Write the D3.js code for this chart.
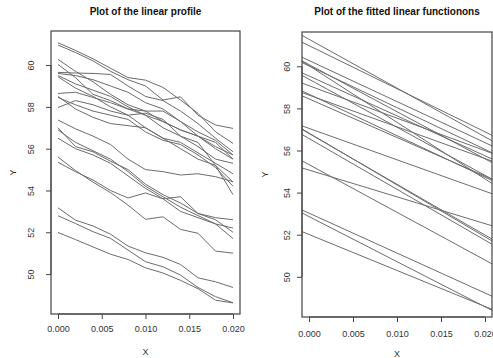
<!DOCTYPE html>
<html><head><meta charset="utf-8">
<script src="https://cdn.jsdelivr.net/npm/d3@7"></script>
<style>body{margin:0;background:#fff}svg{display:block;font-family:"Liberation Sans",Arial,sans-serif}</style>
</head><body><svg id="c" width="493" height="358"></svg>
<script>
// ---- data ----
const xValues = [0, 0.002, 0.004, 0.006, 0.008, 0.010, 0.012, 0.014, 0.016, 0.018, 0.020];
const profile01 = [61.07, 60.70, 60.30, 59.85, 59.40, 59.28, 58.93, 58.33, 57.69, 56.81, 56.25];
const profile02 = [60.96, 60.60, 60.20, 59.70, 59.30, 59.00, 58.33, 58.48, 57.60, 57.13, 56.97];
const profile03 = [60.27, 59.70, 59.20, 58.60, 58.10, 57.80, 57.30, 56.90, 56.60, 56.10, 55.70];
const profile04 = [60.03, 59.40, 58.60, 58.30, 57.90, 57.60, 57.00, 56.60, 56.30, 55.20, 53.80];
const profile05 = [59.65, 59.62, 59.60, 59.55, 59.00, 58.50, 58.30, 57.80, 57.20, 56.50, 55.85];
const profile06 = [59.60, 59.50, 59.30, 59.00, 58.70, 58.20, 57.90, 57.30, 56.80, 56.40, 55.70];
const profile07 = [59.50, 59.10, 58.80, 58.50, 58.00, 57.60, 57.30, 56.90, 56.60, 56.30, 55.50];
const profile08 = [59.44, 58.90, 58.50, 58.00, 57.60, 57.00, 56.50, 56.30, 55.80, 55.30, 54.80];
const profile09 = [58.64, 58.70, 58.45, 58.20, 57.90, 57.80, 57.80, 57.30, 56.60, 56.00, 55.50];
const profile10 = [58.50, 57.90, 57.50, 57.20, 57.10, 57.00, 56.50, 56.00, 55.50, 55.20, 54.40];
const profile11 = [58.45, 58.10, 57.80, 57.60, 57.40, 56.80, 56.40, 56.20, 55.70, 55.10, 54.20];
const profile12 = [57.97, 58.30, 58.10, 57.80, 57.60, 57.70, 57.40, 56.60, 56.10, 55.50, 55.30];
const profile13 = [57.37, 56.95, 56.60, 56.20, 55.50, 55.00, 54.90, 54.74, 54.80, 54.66, 54.42];
const profile14 = [57.00, 56.10, 55.85, 55.40, 55.00, 54.30, 53.80, 53.40, 52.90, 52.60, 52.00];
const profile15 = [56.90, 56.30, 55.90, 55.50, 54.90, 54.20, 53.70, 53.20, 52.80, 52.40, 52.20];
const profile16 = [56.50, 56.00, 55.70, 55.30, 54.70, 54.10, 53.60, 53.00, 52.70, 52.40, 51.70];
const profile17 = [55.60, 54.95, 54.40, 53.90, 53.30, 52.62, 52.74, 52.14, 51.95, 51.10, 51.00];
const profile18 = [55.35, 54.90, 54.50, 54.00, 53.64, 53.88, 53.60, 53.70, 52.90, 52.70, 52.60];
const profile19 = [53.17, 52.58, 52.30, 51.91, 51.34, 51.02, 50.80, 50.46, 49.82, 49.63, 49.36];
const profile20 = [52.79, 52.42, 52.03, 51.71, 51.15, 50.59, 50.35, 49.95, 49.36, 48.92, 48.63];
const profile21 = [51.99, 51.65, 51.30, 50.95, 50.70, 50.30, 50.05, 49.70, 49.30, 48.75, 48.62];
const profiles = [profile01, profile02, profile03, profile04, profile05, profile06, profile07,
  profile08, profile09, profile10, profile11, profile12, profile13, profile14, profile15,
  profile16, profile17, profile18, profile19, profile20, profile21];
const xTicks = [0, 0.005, 0.010, 0.015, 0.020];
const xTickLabels = ["0.000", "0.005", "0.010", "0.015", "0.020"];
const yTicks = [50, 52, 54, 56, 58, 60];
const xDomain = [-0.0008, 0.0208];
const yDomain = [48.09, 61.63];
const titles = ["Plot of the linear profile", "Plot of the fitted linear functionons"];

// least-squares fit of each profile
function fit(ys) {
  const mx = d3.mean(xValues), my = d3.mean(ys);
  let sxy = 0, sxx = 0;
  xValues.forEach((x, i) => { sxy += (x - mx) * (ys[i] - my); sxx += (x - mx) * (x - mx); });
  const b = sxy / sxx;
  return { a: my - b * mx, b };
}
const fits = profiles.map(fit);

const svg = d3.select("#c");
const panels = [
  { l: 51, r: 240, t: 31, b: 314, titleY: 15, yLabX: 31, xLabY: 332, xTitleY: 355, yTitleX: 16 },
  { l: 302, r: 492, t: 32, b: 317, titleY: 15, yLabX: 287, xLabY: 337, xTitleY: 357, yTitleX: 268 }
];

panels.forEach((p, k) => {
  const x = d3.scaleLinear().domain(xDomain).range([p.l, p.r]);
  const y = d3.scaleLinear().domain(yDomain).range([p.b, p.t]);
  const g = svg.append("g");
  const clipId = "clip" + k;
  g.append("clipPath").attr("id", clipId).append("rect")
    .attr("x", p.l).attr("y", p.t).attr("width", p.r - p.l).attr("height", p.b - p.t);
  const plot = g.append("g").attr("clip-path", `url(#${clipId})`);
  if (k === 0) {
    const line = d3.line().x((d, i) => x(xValues[i])).y(d => y(d));
    plot.selectAll("path").data(profiles).join("path")
      .attr("d", line).attr("fill", "none").attr("stroke", "#6c6c6c").attr("stroke-width", 1);
  } else {
    plot.selectAll("line").data(fits).join("line")
      .attr("x1", x(xDomain[0])).attr("x2", x(xDomain[1]))
      .attr("y1", f => y(f.a + f.b * xDomain[0])).attr("y2", f => y(f.a + f.b * xDomain[1]))
      .attr("stroke", "#6c6c6c").attr("stroke-width", 1);
  }
  // box
  g.append("rect").attr("x", p.l).attr("y", p.t).attr("width", p.r - p.l).attr("height", p.b - p.t)
    .attr("fill", "none").attr("stroke", "#444").attr("stroke-width", 1.2);
  // x axis
  const xa = d3.axisBottom(x).tickValues(xTicks).tickSize(5).tickFormat((d, i) => xTickLabels[i]);
  const gx = g.append("g").attr("transform", `translate(0,${p.b})`).call(xa);
  gx.select(".domain").attr("d", `M${x(xTicks[0])},0H${x(xTicks[xTicks.length - 1])}`).attr("stroke", "#444");
  gx.selectAll(".tick line").attr("stroke", "#444");
  gx.selectAll(".tick text").attr("y", p.xLabY - p.b - 3).attr("dy", "0.35em")
    .attr("font-size", 9).attr("fill", "#333").attr("font-family", "Liberation Sans, Arial, sans-serif");
  // y axis
  const ya = d3.axisLeft(y).tickValues(yTicks).tickSize(5).tickFormat(d3.format("d"));
  const gy = g.append("g").attr("transform", `translate(${p.l},0)`).call(ya);
  gy.select(".domain").attr("d", `M0,${y(yTicks[0])}V${y(yTicks[yTicks.length - 1])}`).attr("stroke", "#444");
  gy.selectAll(".tick line").attr("stroke", "#444");
  gy.selectAll(".tick text")
    .attr("x", null).attr("dy", null)
    .attr("transform", `translate(${p.yLabX - p.l},0) rotate(-90)`)
    .attr("text-anchor", "middle").attr("dominant-baseline", "central")
    .attr("font-size", 9).attr("fill", "#333").attr("font-family", "Liberation Sans, Arial, sans-serif");
  // titles
  g.append("text").attr("x", (p.l + p.r) / 2).attr("y", p.titleY)
    .attr("text-anchor", "middle").attr("font-weight", "bold").attr("font-size", 10)
    .attr("fill", "#111").text(titles[k]);
  g.append("text").attr("x", x(0.01)).attr("y", p.xTitleY).attr("text-anchor", "middle")
    .attr("font-size", 9).attr("fill", "#333").text("X");
  g.append("text").attr("transform", `translate(${p.yTitleX},${(p.t + p.b) / 2}) rotate(-90)`)
    .attr("text-anchor", "middle").attr("font-size", 9).attr("fill", "#333").text("Y");
});
</script></body></html>
